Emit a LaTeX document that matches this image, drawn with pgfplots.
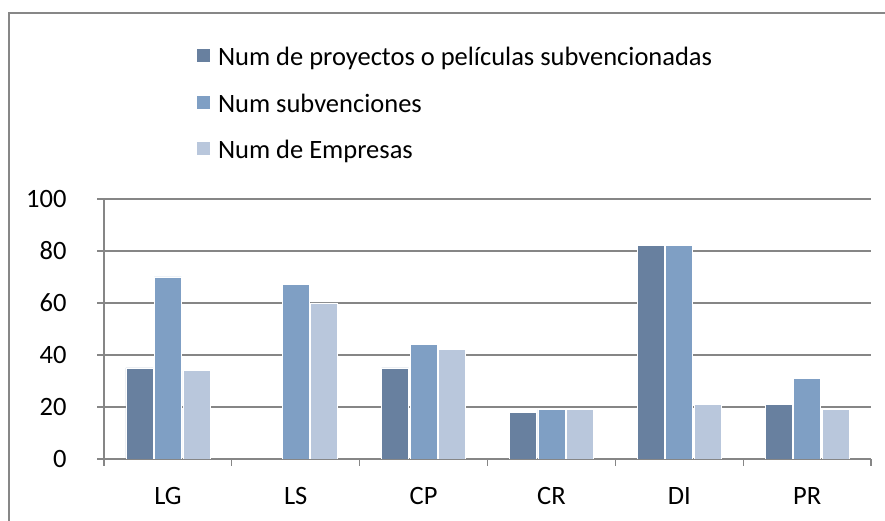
\documentclass[border=0pt]{standalone}
\usepackage{pgfplots}
\pgfplotsset{compat=1.18}
\usepackage{fontspec}
\setmainfont{Carlito}
\definecolor{cA}{RGB}{104,128,159}
\definecolor{cB}{RGB}{127,159,196}
\definecolor{cC}{RGB}{185,199,220}
\definecolor{gridc}{RGB}{134,134,134}
\definecolor{framec}{RGB}{135,135,135}
\begin{document}
\fontsize{26.5bp}{31bp}\selectfont
\begin{tikzpicture}
\useasboundingbox (0,0) rectangle (885bp,521bp);
\draw[framec, line width=1.5bp] (9bp,0bp) -- (9bp,508bp) -- (885bp,508bp);
\begin{axis}[
 at={(104bp,62bp)}, anchor=south west,
 scale only axis, width=767bp, height=260bp,
 xmin=-0.5, xmax=5.5, ymin=0, ymax=100,
 ybar=1.5bp, bar width=27bp,
 xtick={-0.5,0.5,...,5.5}, xticklabels={LG,LS,CP,CR,DI,PR},
 x tick label as interval,
 ytick={0,20,...,100},
 ymajorgrids, grid style={gridc, line width=1.3bp},
 axis x line*=bottom, axis y line*=left,
 axis line style={gridc, line width=1.3bp},
 tick style={gridc, line width=1.3bp},
 tick align=outside, major tick length=6.5bp,
 /pgf/number format/assume math mode=true,
 yticklabel style={xshift=-22bp},
 xticklabel style={yshift=-13bp},
 legend image code/.code={\fill[#1, draw=none] (0bp,-2bp) rectangle (13bp,11bp);},
 legend cell align=left,
 legend style={draw=none, fill=none, inner sep=0pt, at={(0.121,1.579)}, anchor=north west,
   row sep=23.5bp, column sep=8bp,
   nodes={inner sep=0pt, text height=17bp, text depth=6bp}},
]
\addplot[fill=cA, draw=white, line width=0.8bp] coordinates {(0,35) (2,35) (3,18) (4,82) (5,21)};
\addplot[fill=cB, draw=white, line width=0.8bp] coordinates {(0,70) (1,67) (2,44) (3,19) (4,82) (5,31)};
\addplot[fill=cC, draw=white, line width=0.8bp] coordinates {(0,34) (1,60) (2,42) (3,19) (4,21) (5,19)};
\legend{Num de proyectos o películas subvencionadas, Num subvenciones, Num de Empresas}
\end{axis}
\end{tikzpicture}
\end{document}
